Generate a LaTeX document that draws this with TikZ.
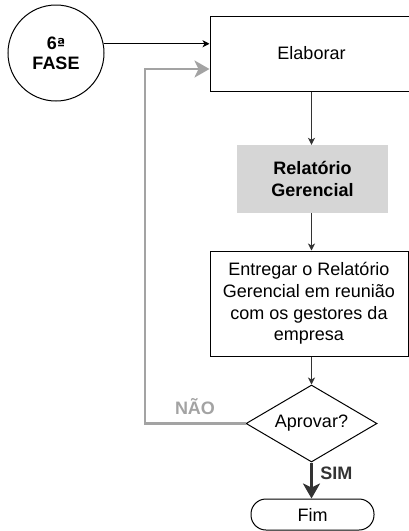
\documentclass[tikz,border=0pt]{standalone}
\usepackage{fontspec}
\setsansfont{Liberation Sans}
\newfontfamily\ordfont{DejaVu Sans}
\usepackage{tikz}
\usetikzlibrary{positioning,arrows.meta,shapes.geometric}
\definecolor{report}{HTML}{D6D6D6}
\definecolor{loop}{HTML}{A3A3A3}
\definecolor{flow}{HTML}{333333}

\begin{document}
\begin{tikzpicture}[x=1pt,y=-1pt,font=\sffamily\fontsize{18}{21.6}\selectfont]
    \tikzstyle{task}=[draw, line width=1pt, align=center, minimum width=198pt, minimum height=75pt, inner sep=0pt]
    \tikzstyle{report}=[fill=report, align=center, minimum width=151pt, minimum height=68pt, font=\sffamily\bfseries\fontsize{18}{21.6}\selectfont]
    \tikzstyle{phase}=[draw, circle, line width=1pt, minimum size=96pt, inner sep=0pt, align=center, font=\sffamily\bfseries\fontsize{18}{20}\selectfont]
    \tikzstyle{decision}=[draw, diamond, aspect=1.7, line width=1pt, minimum width=131pt, minimum height=77pt, inner sep=0pt]
    \tikzstyle{terminal}=[draw, rounded corners=15pt, line width=1pt, minimum width=123pt, minimum height=31pt, inner sep=0pt]
    \tikzstyle{flowline}=[draw=flow, line width=1pt, -{Stealth[length=7pt,width=7pt,inset=2pt]}]
    \tikzstyle{bigtip}=[-{Stealth[length=15pt,width=17pt,inset=4pt]}]
    \tikzstyle{tag}=[font=\sffamily\bfseries\fontsize{18}{21.6}\selectfont]
    \useasboundingbox (0,0) rectangle (409,531);

    % Start
    \node[phase] (fase) at (56,53) {6{\ordfont\fontsize{15}{15}\selectfont ª}\\FASE};
    \node[task,minimum width=203pt] (elab) at (311.5,53.5) {Elaborar};

    % Main chain
    \node[report] (relat) at (312.5,179) {Relatório\\Gerencial};
    \node[task,minimum height=105pt] (entrega) at (309,303.5) {Entregar o Relatório\\Gerencial em reunião\\com os gestores da\\empresa};
    \node[decision] (aprovar) at (311.5,423.5) {Aprovar?};
    \node[terminal] (fim) at (312.5,514.5) {Fim};

    \coordinate (loopx) at (145,0);

    \draw[flowline,draw=black] (fase.11) -- (fase.11 -| elab.west);
    \draw[flowline] (elab.south -| aprovar) -- (relat.north -| aprovar);
    \draw[flowline] (relat.south -| aprovar) -- (entrega.north -| aprovar);
    \draw[flowline] (entrega.south -| aprovar) -- (aprovar);
    \draw[bigtip,draw=flow,line width=3pt] (aprovar) -- (fim.north -| aprovar)
        node[pos=0.3,right=4pt,text=flow,tag] (sim) {SIM};
    \draw[bigtip,draw=loop,line width=2.5pt] (aprovar.west) -- (aprovar.west -| loopx) |- ([yshift=-15.5pt]elab.west);
    \node[text=loop,tag] (nao) at (195,407) {NÃO};
\end{tikzpicture}
\end{document}
